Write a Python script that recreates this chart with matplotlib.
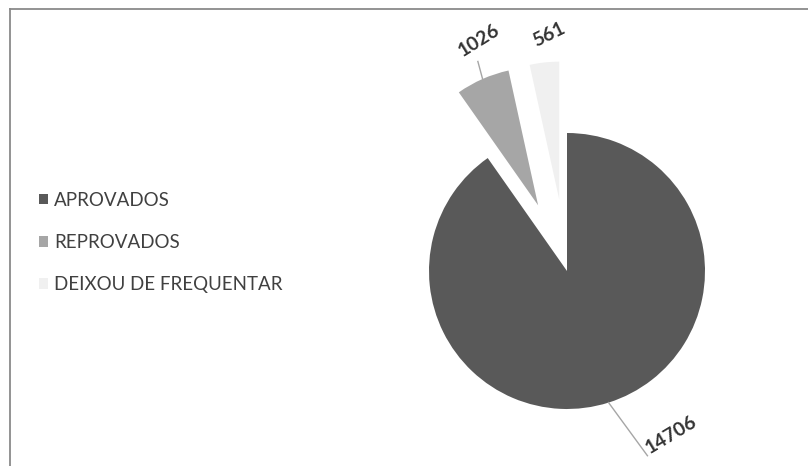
import numpy as np
import matplotlib
matplotlib.use("Agg")
import matplotlib.pyplot as plt
from matplotlib.lines import Line2D

# Situação dos alunos
categories = ["APROVADOS", "REPROVADOS", "DEIXOU DE FREQUENTAR"]
values = [14706, 1026, 561]
colors = ["#595959", "#a6a6a6", "#f0f0f0"]
explode_frac = [0.0, 0.52, 0.52]

W, H = 808, 466
fig = plt.figure(figsize=(W / 100, H / 100), dpi=100)
ax = fig.add_axes([0, 0, 1, 1])

cx, cy, R = 567, H - 271, 138
wedges, _ = ax.pie(values, colors=colors, explode=[e * R for e in explode_frac],
                   startangle=90, counterclock=False, center=(cx, cy), radius=R,
                   wedgeprops=dict(linewidth=0), frame=True)
ax.set_xlim(0, W)
ax.set_ylim(0, H)
ax.set_aspect("equal")
ax.axis("off")

# label placement: (radius factor, angle shift in degrees) relative to each wedge
label_pos = [(1.41, 15.0), (1.27, -4.2), (1.20, -2.6)]
leader_end = [(1.46, 6.0), (1.13, -1.0), None]
label_rot = [31, 32, 26]

for w, v, (k, dt), le, rot in zip(wedges, values, label_pos, leader_end, label_rot):
    mid = 0.5 * (w.theta1 + w.theta2)
    wx, wy = w.center
    a = np.deg2rad(mid + dt)
    tx, ty = wx + R * k * np.cos(a), wy + R * k * np.sin(a)
    ax.text(tx, ty, f"{v}", rotation=rot, ha="center", va="center",
            fontsize=14, fontweight="bold", color="#333333", family="Lato",
            rotation_mode="anchor")
    if le is not None:
        m = np.deg2rad(mid)
        x0, y0 = wx + R * np.cos(m), wy + R * np.sin(m)
        b = np.deg2rad(mid + le[1])
        x1, y1 = wx + R * le[0] * np.cos(b), wy + R * le[0] * np.sin(b)
        ax.plot([x0, x1], [y0, y1], color="#a6a6a6", lw=1.0)

leg = fig.legend(wedges, categories, loc="upper left",
                 bbox_to_anchor=(31 / W, 1 - 184 / H), frameon=False,
                 handlelength=0.5, handleheight=0.5, handletextpad=0.35,
                 labelspacing=1.35, borderaxespad=0,
                 prop=dict(family="Lato", size=13.5))
for t in leg.get_texts():
    t.set_color("#404040")

# chart area border (top and left edges)
fig.add_artist(Line2D([9.5 / W, 1], [1 - 8.5 / H, 1 - 8.5 / H], color="#8a8a8a", lw=1.3))
fig.add_artist(Line2D([9.5 / W, 9.5 / W], [0, 1 - 8.5 / H], color="#8a8a8a", lw=1.3))

fig.savefig("out.png", dpi=100)
